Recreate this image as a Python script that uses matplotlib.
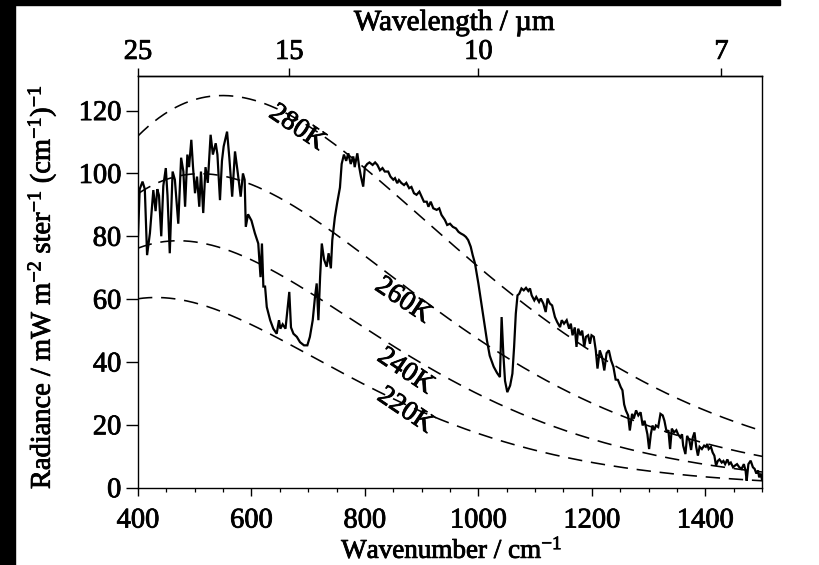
import numpy as np
import matplotlib
matplotlib.use("Agg")
import matplotlib.pyplot as plt
import matplotlib.patheffects as pe
from matplotlib.ticker import MultipleLocator, NullLocator, FixedLocator
from matplotlib.patches import Rectangle

plt.rcParams["font.family"] = ["Liberation Serif", "DejaVu Serif"]
plt.rcParams["mathtext.fontset"] = "custom"
plt.rcParams["mathtext.rm"] = "Liberation Serif"
plt.rcParams["mathtext.it"] = "Liberation Serif:italic"
plt.rcParams["mathtext.bf"] = "Liberation Serif:bold"

# Measured outgoing radiance spectrum (wavenumber cm^-1, radiance mW m^-2 sr^-1 (cm^-1)^-1)
wavenumber = [
    400, 403, 408, 412, 416, 421, 427, 431, 434, 437, 441, 444.6, 449, 452, 456,
    461, 465, 471, 476, 480, 483, 487, 490, 494, 497, 500.5, 504, 508, 511, 515,
    519, 523, 528, 532, 537, 540, 544.5, 548, 551, 557, 561, 566, 571, 576, 581,
    585, 588, 590, 594, 600, 606, 612, 616, 618.5, 621, 624, 627, 633, 638.5,
    644.5, 648.5, 651, 655, 660, 666.7, 669.7, 674, 680, 685.6, 692.6, 698.5,
    703, 708, 712, 715, 718, 721, 724, 728, 732.6, 736, 740, 742.5, 747, 751,
    756, 759, 763, 767, 770.7, 775, 779.5, 782, 786.6, 790, 793, 797, 800, 804,
    808, 813.6, 818, 822, 826.6, 831, 835, 841, 845, 850, 853, 857, 860, 864,
    869, 873, 878, 882, 886.5, 891, 896, 900, 904, 909, 912, 916, 920.5, 926.5,
    931, 935, 941, 945, 950, 955, 960.5, 965, 969, 974, 978, 982, 986.5, 990,
    994, 997, 1000, 1005, 1010, 1015, 1020, 1027, 1033, 1038, 1041, 1044, 1047,
    1051, 1056, 1060, 1063, 1066, 1069, 1072, 1076, 1080, 1084, 1088, 1091, 1094,
    1098.6, 1102, 1107, 1110, 1114.5, 1118.7, 1122, 1126, 1130, 1135, 1139,
    1144, 1147, 1151, 1155.7, 1160, 1163, 1166, 1170, 1173, 1176, 1180, 1183,
    1186.7, 1189.5, 1193.5, 1196.7, 1199.5, 1203.5, 1207, 1210, 1214, 1218,
    1222, 1226, 1230, 1234, 1238, 1242, 1246, 1251, 1254, 1257, 1260, 1264,
    1267, 1271, 1274, 1278, 1282, 1286, 1289.6, 1293, 1298, 1301, 1304, 1307,
    1310, 1313, 1317, 1321, 1325, 1328, 1332, 1335, 1338, 1341, 1345, 1349,
    1352, 1356, 1359, 1361, 1365, 1368, 1372, 1375, 1378, 1381, 1384, 1387,
    1390, 1394, 1398, 1401, 1403.5, 1406, 1410, 1413, 1416, 1419, 1422, 1425,
    1429, 1432, 1435, 1439, 1442, 1445, 1449, 1452, 1456, 1460, 1464, 1468,
    1471, 1473, 1476, 1480, 1484, 1487, 1490, 1493, 1495, 1498, 1500,
]
radiance = [
    80, 95, 97.4, 95, 74, 81, 94.7, 88, 95, 93, 80, 96, 101.7, 93, 74.6,
    100.6, 98, 84, 105, 100.6, 89.4, 106, 102, 110.7, 102, 93.7, 99, 89.4, 100.6, 87.4,
    102, 97, 112.3, 106, 109.6, 106, 91.5, 104, 108.6, 113.3, 105, 92.6, 107, 100, 92.6,
    100, 98, 83, 87, 85, 81, 77.7, 67, 77.7, 64, 64, 57.5, 53.3, 50.6,
    49, 53.3, 50.6, 52, 50.6, 62.3, 51, 49, 48, 46.3, 45.3, 45.3,
    48, 53.3, 60.7, 65, 53.3, 67, 77.7, 72.6, 70.3, 74.6, 69.8, 78.8, 86, 90.5,
    95.5, 103, 106, 104, 106.4, 103, 105.4, 102, 106.4, 102, 99, 95.8, 102, 103,
    103.5, 102.7, 103.5, 102.7, 101, 101.7, 100.6, 100.6, 99, 98, 98.5, 96.9, 97.9, 97,
    96.3, 97, 95.3, 95.7, 93.7, 93.2, 94.2, 92.6, 91, 91, 89.4, 91, 88.9, 88.4,
    88.9, 86.8, 85.2, 83.6, 84, 83, 82.5, 81.4, 80.9, 80.4, 79.8, 78.8, 76.7, 74,
    71.4, 68.2, 65, 59, 53, 47, 42, 38.5, 36.5, 35.2, 54.3, 42.6, 34,
    30.4, 32.5, 36.3, 44.8, 55.4, 61.2, 61.7, 63.4, 62.8, 63.6, 62.6, 63.4, 61.2,
    59.6, 60.7, 59.1, 60.2, 58.6, 55.9, 60.2, 58.6, 58, 54.3, 52.7,
    51.1, 53.3, 52.2, 53.3, 50.6, 52.2, 48.5, 51, 44.8, 50.6, 48.5, 50,
    44.8, 48, 48.5, 45.8, 48.5, 48, 43.7, 37.9, 43.7, 41.6,
    37.3, 42.8, 43.7, 40.5, 38.5, 34.4, 34.3, 32, 31, 26.5, 24.6, 23,
    18.2, 23.5, 22, 24.6, 23, 24, 19.8, 21.3, 17, 12.3, 17, 19.8,
    18.3, 19.8, 19.3, 23.5, 23, 21.3, 17.6, 18.3, 12.3, 18.8, 17.6, 18.3,
    17, 16, 17, 13.4, 10.7, 16.5, 15, 12, 16, 17.6, 13, 10.2,
    13, 12.3, 13.4, 13, 13.9, 12.3, 13, 11.2, 10.2, 7, 8.5, 9,
    8, 8.5, 7.5, 9, 7.5, 8, 6.5, 7, 7.5, 6.5, 6, 7.5,
    5.5, 2.2, 7.5, 8.6, 6.5, 6, 4.5, 5.5, 3.3, 4.5, 2.5,
]

# Blackbody reference temperatures (K) and where their labels sit
temperatures = [280, 260, 240, 220]
label_pos = {280: (680, 114.5), 260: (867, 59.5), 240: (871, 37.0), 220: (871, 24.5)}

# Top-axis wavelength ticks (micrometres)
wavelength_ticks = [25, 15, 10, 7]

C1 = 1.191042e-5   # mW m^-2 sr^-1 cm^4
C2 = 1.438777      # cm K


def planck(nu, T):
    return C1 * nu**3 / np.expm1(C2 * nu / T)


# slightly heavier glyphs, like inked print
ink = [pe.withStroke(linewidth=0.6, foreground="black")]

W, H = 819, 565
fig = plt.figure(figsize=(W / 100, H / 100), dpi=100)
ax = fig.add_axes([138 / W, 1 - 487.7 / H, (762 - 138) / W, (487.7 - 76) / H])

nu_grid = np.linspace(400, 1500, 600)
for T in temperatures:
    ax.plot(nu_grid, planck(nu_grid, T), color="black", lw=1.15,
            dashes=(9, 5.5), zorder=2)
    x, y = label_pos[T]
    ax.text(x, y, f"{T}K", rotation=-34, ha="center", va="center",
            fontsize=20, zorder=3, rotation_mode="anchor", path_effects=ink)

ax.plot(wavenumber, radiance, color="black", lw=1.6, zorder=4,
        solid_joinstyle="miter")

ax.set_xlim(400, 1500)
ax.set_ylim(0, 131)

ax.xaxis.set_major_locator(MultipleLocator(200))
ax.xaxis.set_minor_locator(MultipleLocator(50))
ax.yaxis.set_major_locator(MultipleLocator(20))
ax.yaxis.set_minor_locator(NullLocator())

ax.tick_params(axis="x", which="major", direction="out", length=6, width=1,
               labelsize=20.5, pad=9, top=False)
ax.tick_params(axis="x", which="minor", direction="out", length=3, width=0.9,
               top=False)
ax.tick_params(axis="y", which="major", direction="out", length=9, width=1,
               labelsize=20.5, pad=3, right=False)
for lab in ax.get_xticklabels() + ax.get_yticklabels():
    lab.set_path_effects(ink)

for s in ax.spines.values():
    s.set_linewidth(1.0)

fig.text(452 / W, 1 - 558 / H, r"Wavenumber / cm$^{-1}$", ha="center",
         va="baseline", fontsize=19.5, path_effects=ink)
fig.text(42 / W, 1 - 287 / H,
         r"Radiance / mW m$^{-2}$ ster$^{-1}$ (cm$^{-1}$)$^{-1}$",
         rotation=90, ha="center", va="center", fontsize=20.5, path_effects=ink)

sec = ax.secondary_xaxis("top", functions=(lambda v: 1e4 / v, lambda v: 1e4 / v))
sec.xaxis.set_major_locator(FixedLocator(wavelength_ticks))
sec.xaxis.set_minor_locator(NullLocator())
sec.tick_params(axis="x", direction="out", length=6, width=1, labelsize=20.5, pad=2)
sec.spines["top"].set_linewidth(1.0)
for lab in sec.get_xticklabels():
    lab.set_path_effects(ink)
fig.text(454 / W, 1 - 23 / H, "Wavelength / µm", ha="center", va="center",
         fontsize=21, path_effects=ink)

# dark scan margins along the left and top edges
fig.patches.append(Rectangle((0, 0), 15 / W, 1, transform=fig.transFigure,
                             color="black", zorder=10))
fig.patches.append(Rectangle((0, 1 - 5 / H), 780 / W, 5 / H,
                             transform=fig.transFigure, color="black", zorder=10))

fig.savefig("out.png", dpi=100)
